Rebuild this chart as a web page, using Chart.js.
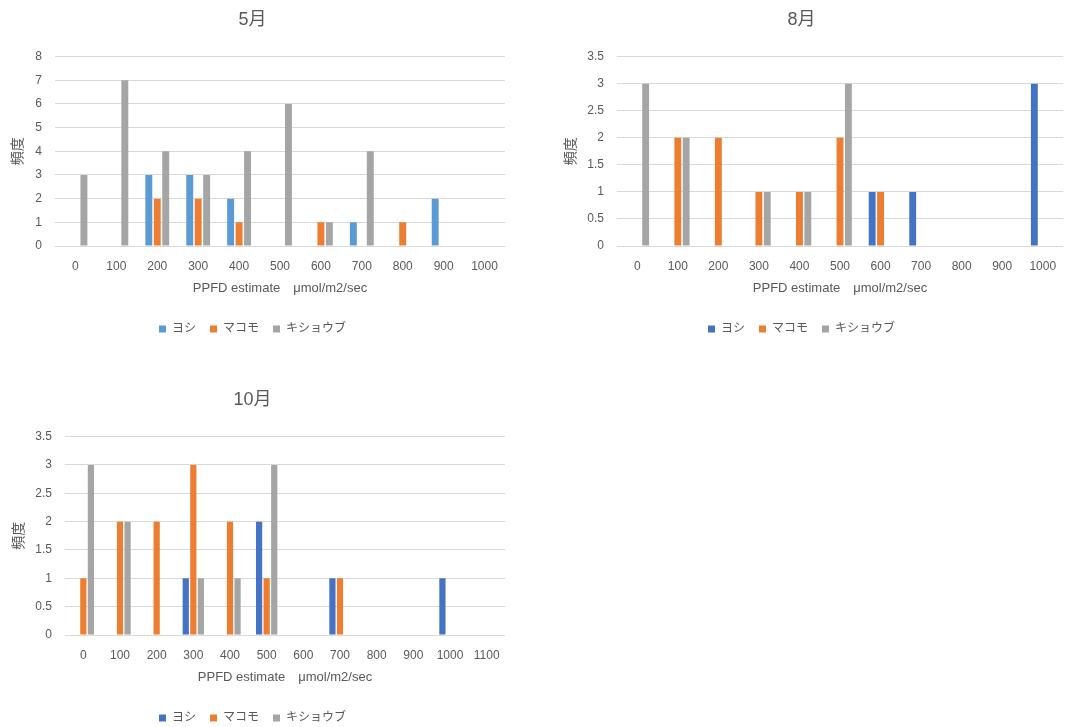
<!DOCTYPE html>
<html>
<head>
<meta charset="utf-8">
<script src="https://cdn.jsdelivr.net/npm/chart.js@4"></script>
<style>
  body { margin: 0; background: #fff; width: 1073px; height: 727px; overflow: hidden; position: relative; }
  canvas { position: absolute; }
</style>
</head>
<body>
<canvas id="may" width="512" height="345" style="left:0;top:0"></canvas>
<canvas id="aug" width="540" height="345" style="left:540px;top:0"></canvas>
<canvas id="oct" width="512" height="354" style="left:0;top:380px"></canvas>
<script>
// 階級 (PPFD)
const labels11 = ['0', '100', '200', '300', '400', '500', '600', '700', '800', '900', '1000'];
const labels12 = ['0', '100', '200', '300', '400', '500', '600', '700', '800', '900', '1000', '1100'];
const seriesNames = ['ヨシ', 'マコモ', 'キショウブ'];

// 5月
const mayYoshi = [0, 0, 3, 3, 2, 0, 0, 1, 0, 2, 0];
const mayMakomo = [0, 0, 2, 2, 1, 0, 1, 0, 1, 0, 0];
const mayKishoubu = [3, 7, 4, 3, 4, 6, 1, 4, 0, 0, 0];
// 8月
const augYoshi = [0, 0, 0, 0, 0, 0, 1, 1, 0, 0, 3];
const augMakomo = [0, 2, 2, 1, 1, 2, 1, 0, 0, 0, 0];
const augKishoubu = [3, 2, 0, 1, 1, 3, 0, 0, 0, 0, 0];
// 10月
const octYoshi = [0, 0, 0, 1, 0, 2, 0, 1, 0, 0, 1, 0];
const octMakomo = [1, 2, 2, 3, 2, 1, 0, 1, 0, 0, 0, 0];
const octKishoubu = [3, 2, 0, 1, 1, 3, 0, 0, 0, 0, 0, 0];

const FONT = '"Liberation Sans", "Noto Sans CJK JP", sans-serif';
const TEXT = '#595959';
const GRID = '#d9d9d9';

function makeChart(id, title, labels, series, colors, yMax, yStep, yWidth, yTitlePad, rightPad) {
  const ctx = document.getElementById(id).getContext('2d');
  const datasets = series.map((vals, i) => ({
    label: seriesNames[i],
    data: vals,
    backgroundColor: colors[i],
    barPercentage: 0.82,
    categoryPercentage: 0.62
  }));

  return new Chart(ctx, {
    type: 'bar',
    data: { labels: labels, datasets: datasets },
    options: {
      responsive: false,
      animation: false,
      layout: { padding: { left: 0, right: rightPad, top: 0, bottom: 0 } },
      scales: {
        x: {
          grid: { display: false },
          border: { display: false },
          ticks: { color: TEXT, font: { family: FONT, size: 12 }, padding: 5, maxRotation: 0, autoSkip: false },
          title: { display: true, text: 'PPFD estimate　μmol/m2/sec', color: TEXT, font: { family: FONT, size: 13 }, padding: { top: 4, bottom: 13 } },
          afterFit: axis => { axis.height = 63; }
        },
        y: {
          min: 0, max: yMax,
          ticks: { stepSize: yStep, color: TEXT, font: { family: FONT, size: 12 }, padding: 13, callback: v => String(v) },
          grid: { color: GRID, drawTicks: false, lineWidth: 1 },
          border: { display: false },
          title: { display: true, text: '頻度', color: TEXT, font: { family: FONT, size: 14 }, padding: { top: yTitlePad, bottom: 0 } },
          afterFit: axis => { axis.width = yWidth; }
        }
      },
      plugins: {
        title: { display: true, text: title, color: TEXT, font: { family: FONT, size: 18, weight: 'normal' }, padding: { top: 9, bottom: 26 } },
        legend: {
          position: 'bottom',
          labels: { boxWidth: 7, boxHeight: 7, color: TEXT, font: { family: FONT, size: 12 }, padding: 14 }
        },
        tooltip: { enabled: false }
      }
    }
  });
}

makeChart('may', '5月', labels11, [mayYoshi, mayMakomo, mayKishoubu], ['#5b9bd5', '#ed7d31', '#a5a5a5'], 8, 1, 55, 10, 7);
makeChart('aug', '8月', labels11, [augYoshi, augMakomo, augKishoubu], ['#4472c4', '#ed7d31', '#a5a5a5'], 3.5, 0.5, 77, 23, 17);
makeChart('oct', '10月', labels12, [octYoshi, octMakomo, octKishoubu], ['#4472c4', '#ed7d31', '#a5a5a5'], 3.5, 0.5, 65, 11, 7);
</script>
</body>
</html>
